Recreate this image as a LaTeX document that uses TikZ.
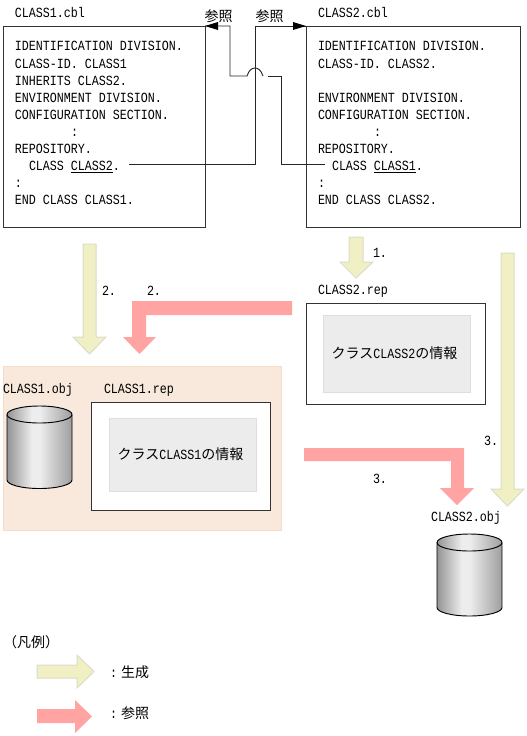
\documentclass[tikz,border=0pt]{standalone}
\usepackage{fontspec}
\setmonofont[FakeStretch=0.833]{Liberation Mono}
\newfontfamily\cjk{Noto Sans CJK JP}
\newcommand{\jp}[1]{{\cjk #1}}
\definecolor{gen}{HTML}{F0F0C4}
\definecolor{genedge}{HTML}{DCDCC8}
\definecolor{refc}{HTML}{FFA3A3}
\definecolor{peach}{HTML}{F9E9DC}
\definecolor{peachedge}{HTML}{F5DCC6}
\definecolor{info}{HTML}{ECECEC}
\definecolor{infoedge}{HTML}{DEDEDE}
\pgfdeclarehorizontalshading{cylshade}{100bp}{
  color(0bp)=(black!42);
  color(25bp)=(black!42);
  color(44bp)=(black!7);
  color(50bp)=(black!7);
  color(75bp)=(black!38);
  color(100bp)=(black!38)}
\tikzset{
  x=0.75pt,y=-0.75pt,
  txt/.style={anchor=base west,inner sep=0pt,outer sep=0pt,font=\ttfamily\fontsize{10.5pt}{12pt}\selectfont},
  jtxt/.style={anchor=center,inner sep=0pt,outer sep=0pt,font=\ttfamily\fontsize{10.5pt}{12pt}\selectfont},
  boxb/.style={draw=black!80,line width=0.65pt,fill=white,anchor=north west,inner sep=0pt,outer sep=0pt},
  infob/.style={draw=infoedge,line width=0.6pt,fill=info,anchor=north west,inner sep=0pt,outer sep=0pt},
  wire/.style={draw=black!85,line width=0.7pt},
  genarrow/.style={fill=gen,draw=genedge,line width=0.75pt,line join=miter},
  refarrow/.style={fill=refc,draw=none},
  cyl/.style={draw=black,line width=0.7pt,shading=cylshade},
  tip/.style={fill=black,draw=none}
}
\begin{document}
\begin{tikzpicture}
\useasboundingbox (0,0) rectangle (527,736);
% peach panel
\node[anchor=north west,fill=peach,draw=peachedge,line width=0.6pt,inner sep=0pt,outer sep=0pt,minimum width=278*0.75pt,minimum height=164*0.75pt] (panel) at (3,366) {};
% code boxes
\node[boxb,minimum width=202*0.75pt,minimum height=201*0.75pt] (boxA) at (3,26) {};
\node[boxb,minimum width=214*0.75pt,minimum height=201*0.75pt] (boxB) at (306,26) {};
% rep boxes
\node[boxb,minimum width=179*0.75pt,minimum height=108*0.75pt] (repA) at (91,402) {};
\node[infob,minimum width=147*0.75pt,minimum height=73*0.75pt] (infoA) at (109,418) {};
\node[jtxt] (infoAt) at ([xshift=-1.5pt]infoA.center) {\jp{クラス}CLASS1\jp{の情報}};
\node[boxb,minimum width=179*0.75pt,minimum height=101*0.75pt] (repB) at (306,303) {};
\node[infob,minimum width=147*0.75pt,minimum height=77*0.75pt] (infoB) at (323,315) {};
\node[jtxt] (infoBt) at ([xshift=-1.5pt]infoB.center) {\jp{クラス}CLASS2\jp{の情報}};
% file labels
\node[txt] (la) at (15,17) {CLASS1.cbl};
\node[txt] (lb) at (318,17) {CLASS2.cbl};
\node[txt] (lc) at (318,294) {CLASS2.rep};
\node[txt] (ld) at (3,393) {CLASS1.obj};
\node[txt] (le) at (104,393) {CLASS1.rep};
\node[txt] (lf) at (431,521) {CLASS2.obj};
% code A
\node[txt] (a1) at (15,50) {IDENTIFICATION DIVISION.};
\node[txt] (a2) at (15,68) {CLASS-ID. CLASS1};
\node[txt] (a3) at (15,85) {INHERITS CLASS2.};
\node[txt] (a4) at (15,102) {ENVIRONMENT DIVISION.};
\node[txt] (a5) at (15,119) {CONFIGURATION SECTION.};
\node[txt] (a6) at (71,136) {:};
\node[txt] (a7) at (15,153) {REPOSITORY.};
\node[txt] (a8) at (29,170) {CLASS \underline{CLASS2}.};
\node[txt] (a9) at (15,187) {:};
\node[txt] (a10) at (15,204) {END CLASS CLASS1.};
% code B
\node[txt] (b1) at (318,50) {IDENTIFICATION DIVISION.};
\node[txt] (b2) at (318,68) {CLASS-ID. CLASS2.};
\node[txt] (b4) at (318,102) {ENVIRONMENT DIVISION.};
\node[txt] (b5) at (318,119) {CONFIGURATION SECTION.};
\node[txt] (b6) at (374,136) {:};
\node[txt] (b7) at (318,153) {REPOSITORY.};
\node[txt] (b8) at (332,170) {CLASS \underline{CLASS1}.};
\node[txt] (b9) at (318,187) {:};
\node[txt] (b10) at (318,204) {END CLASS CLASS2.};
% connectors
\coordinate (sA) at (129,164);
\coordinate (sB) at (325,164);
\coordinate (hA) at (255,26);
\coordinate (hB) at (230,26);
\draw[wire] (sA) -- (255,164) -- (hA) -- (boxB.north west);
\draw[wire] (sB) -- (281,164) -- (281,76) -- (268,76);
\draw[wire] (263,76) .. controls (261,70) and (258,68) .. (255,68) .. controls (252,68) and (249,70) .. (247,76) -- (230,76) -- (hB) -- (boxA.north east);
\path[tip] (boxB.north west) -- ++(-13,-4) -- ++(0,8) -- cycle;
\path[tip] (boxA.north east) -- ++(13,-4) -- ++(0,8) -- cycle;
\node[jtxt] (r1) at (218.5,16) {\jp{参照}};
\node[jtxt] (r2) at (269.5,16) {\jp{参照}};
% generate arrows
\path[genarrow] (83,244) -- (96,244) -- (96,337) -- (106,337) -- (89.5,354) -- (73,337) -- (83,337) -- cycle;
\path[genarrow] (349,237) -- (363,237) -- (363,262) -- (373,262) -- (356,278) -- (340,262) -- (349,262) -- cycle;
\path[genarrow] (501,253) -- (514,253) -- (514,489) -- (524,489) -- (507.5,506) -- (491,489) -- (501,489) -- cycle;
% reference arrows
\path[refarrow] (292,301) -- (292,315) -- (146,315) -- (146,337) -- (156,337) -- (139.5,354) -- (123,337) -- (132,337) -- (132,301) -- cycle;
\path[refarrow] (304,448) -- (464,448) -- (464,488) -- (474,488) -- (457,505) -- (440,488) -- (451,488) -- (451,461) -- (304,461) -- cycle;
% numbers
\node[txt] (n1) at (102,295) {2.};
\node[txt] (n2) at (147,295) {2.};
\node[txt] (n3) at (373,257) {1.};
\node[txt] (n4) at (484,445) {3.};
\node[txt] (n5) at (373,483) {3.};
% cylinders
\path[cyl] (7,414.5) -- (7,480) arc[start angle=180,end angle=0,x radius=32.5,y radius=8.5] -- (72,414.5) arc[start angle=0,end angle=-180,x radius=32.5,y radius=8.5] -- cycle;
\draw[line width=0.7pt] (7,414.5) arc[start angle=180,end angle=0,x radius=32.5,y radius=8.5];
\path[cyl] (437,542.5) -- (437,607.5) arc[start angle=180,end angle=0,x radius=32.5,y radius=8.5] -- (502,542.5) arc[start angle=0,end angle=-180,x radius=32.5,y radius=8.5] -- cycle;
\draw[line width=0.7pt] (437,542.5) arc[start angle=180,end angle=0,x radius=32.5,y radius=8.5];
% legend
\node[jtxt] (lg) at (31,642) {\jp{（凡例）}};
\path[genarrow] (37,665) -- (77,665) -- (77,655) -- (94,671.5) -- (77,688) -- (77,678) -- (37,678) -- cycle;
\path[refarrow] (37,709) -- (75,709) -- (75,700) -- (92,716.5) -- (75,733) -- (75,723) -- (37,723) -- cycle;
\node[txt] (k1) at (110,677) {:};
\node[jtxt] (k2) at (135,672) {\jp{生成}};
\node[txt] (k3) at (110,718) {:};
\node[jtxt] (k4) at (135,713) {\jp{参照}};
\end{tikzpicture}
\end{document}
